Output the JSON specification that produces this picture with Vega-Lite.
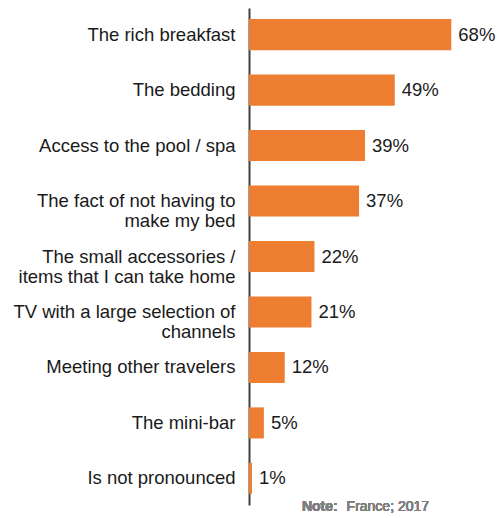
{
  "$schema": "https://vega.github.io/schema/vega-lite/v6.json",
  "autosize": "none",
  "padding": {"left": 249, "top": 8, "right": 11, "bottom": 13},
  "width": 238,
  "height": 497,
  "config": {
    "view": {"stroke": null},
    "font": "Liberation Sans"
  },
  "data": {
    "values": [
      {"item": "The rich breakfast", "pct": 0.68},
      {"item": "The bedding", "pct": 0.49},
      {"item": "Access to the pool / spa", "pct": 0.39},
      {"item": "The fact of not having to|make my bed", "pct": 0.37},
      {"item": "The small accessories /|items that I can take home", "pct": 0.22},
      {"item": "TV with a large selection of|channels", "pct": 0.21},
      {"item": "Meeting other travelers", "pct": 0.12},
      {"item": "The mini-bar", "pct": 0.05},
      {"item": "Is not pronounced", "pct": 0.01}
    ]
  },
  "encoding": {
    "y": {
      "field": "item",
      "type": "nominal",
      "sort": null,
      "scale": {"paddingInner": 0.44, "paddingOuter": 0.2},
      "axis": {
        "title": null,
        "ticks": false,
        "domainColor": "#404040",
        "domainWidth": 2,
        "labelPadding": 14,
        "labelFontSize": 18.5,
        "labelColor": "#1a1a1a",
        "labelLineHeight": 20,
        "labelLimit": 300,
        "labelExpr": "split(datum.label, '|')"
      }
    },
    "x": {
      "field": "pct",
      "type": "quantitative",
      "scale": {"domain": [0, 0.8]},
      "axis": null
    }
  },
  "layer": [
    {
      "mark": {"type": "bar", "color": "#ED7D31"}
    },
    {
      "mark": {"type": "text", "align": "left", "dx": 7, "fontSize": 18.5, "color": "#1a1a1a"},
      "encoding": {
        "text": {"field": "pct", "type": "quantitative", "format": ".0%"}
      }
    },
    {
      "mark": {"type": "text", "text": "Note:", "align": "left", "baseline": "middle", "dy": 29, "fontSize": 14, "fontWeight": "bold", "color": "#7f7f7f"},
      "encoding": {
        "x": {"datum": 0.178, "type": "quantitative"},
        "y": {"datum": "Is not pronounced", "type": "nominal"}
      }
    },
    {
      "mark": {"type": "text", "text": "France; 2017", "align": "left", "baseline": "middle", "dy": 29, "fontSize": 14, "color": "#7f7f7f"},
      "encoding": {
        "x": {"datum": 0.328, "type": "quantitative"},
        "y": {"datum": "Is not pronounced", "type": "nominal"}
      }
    }
  ]
}
